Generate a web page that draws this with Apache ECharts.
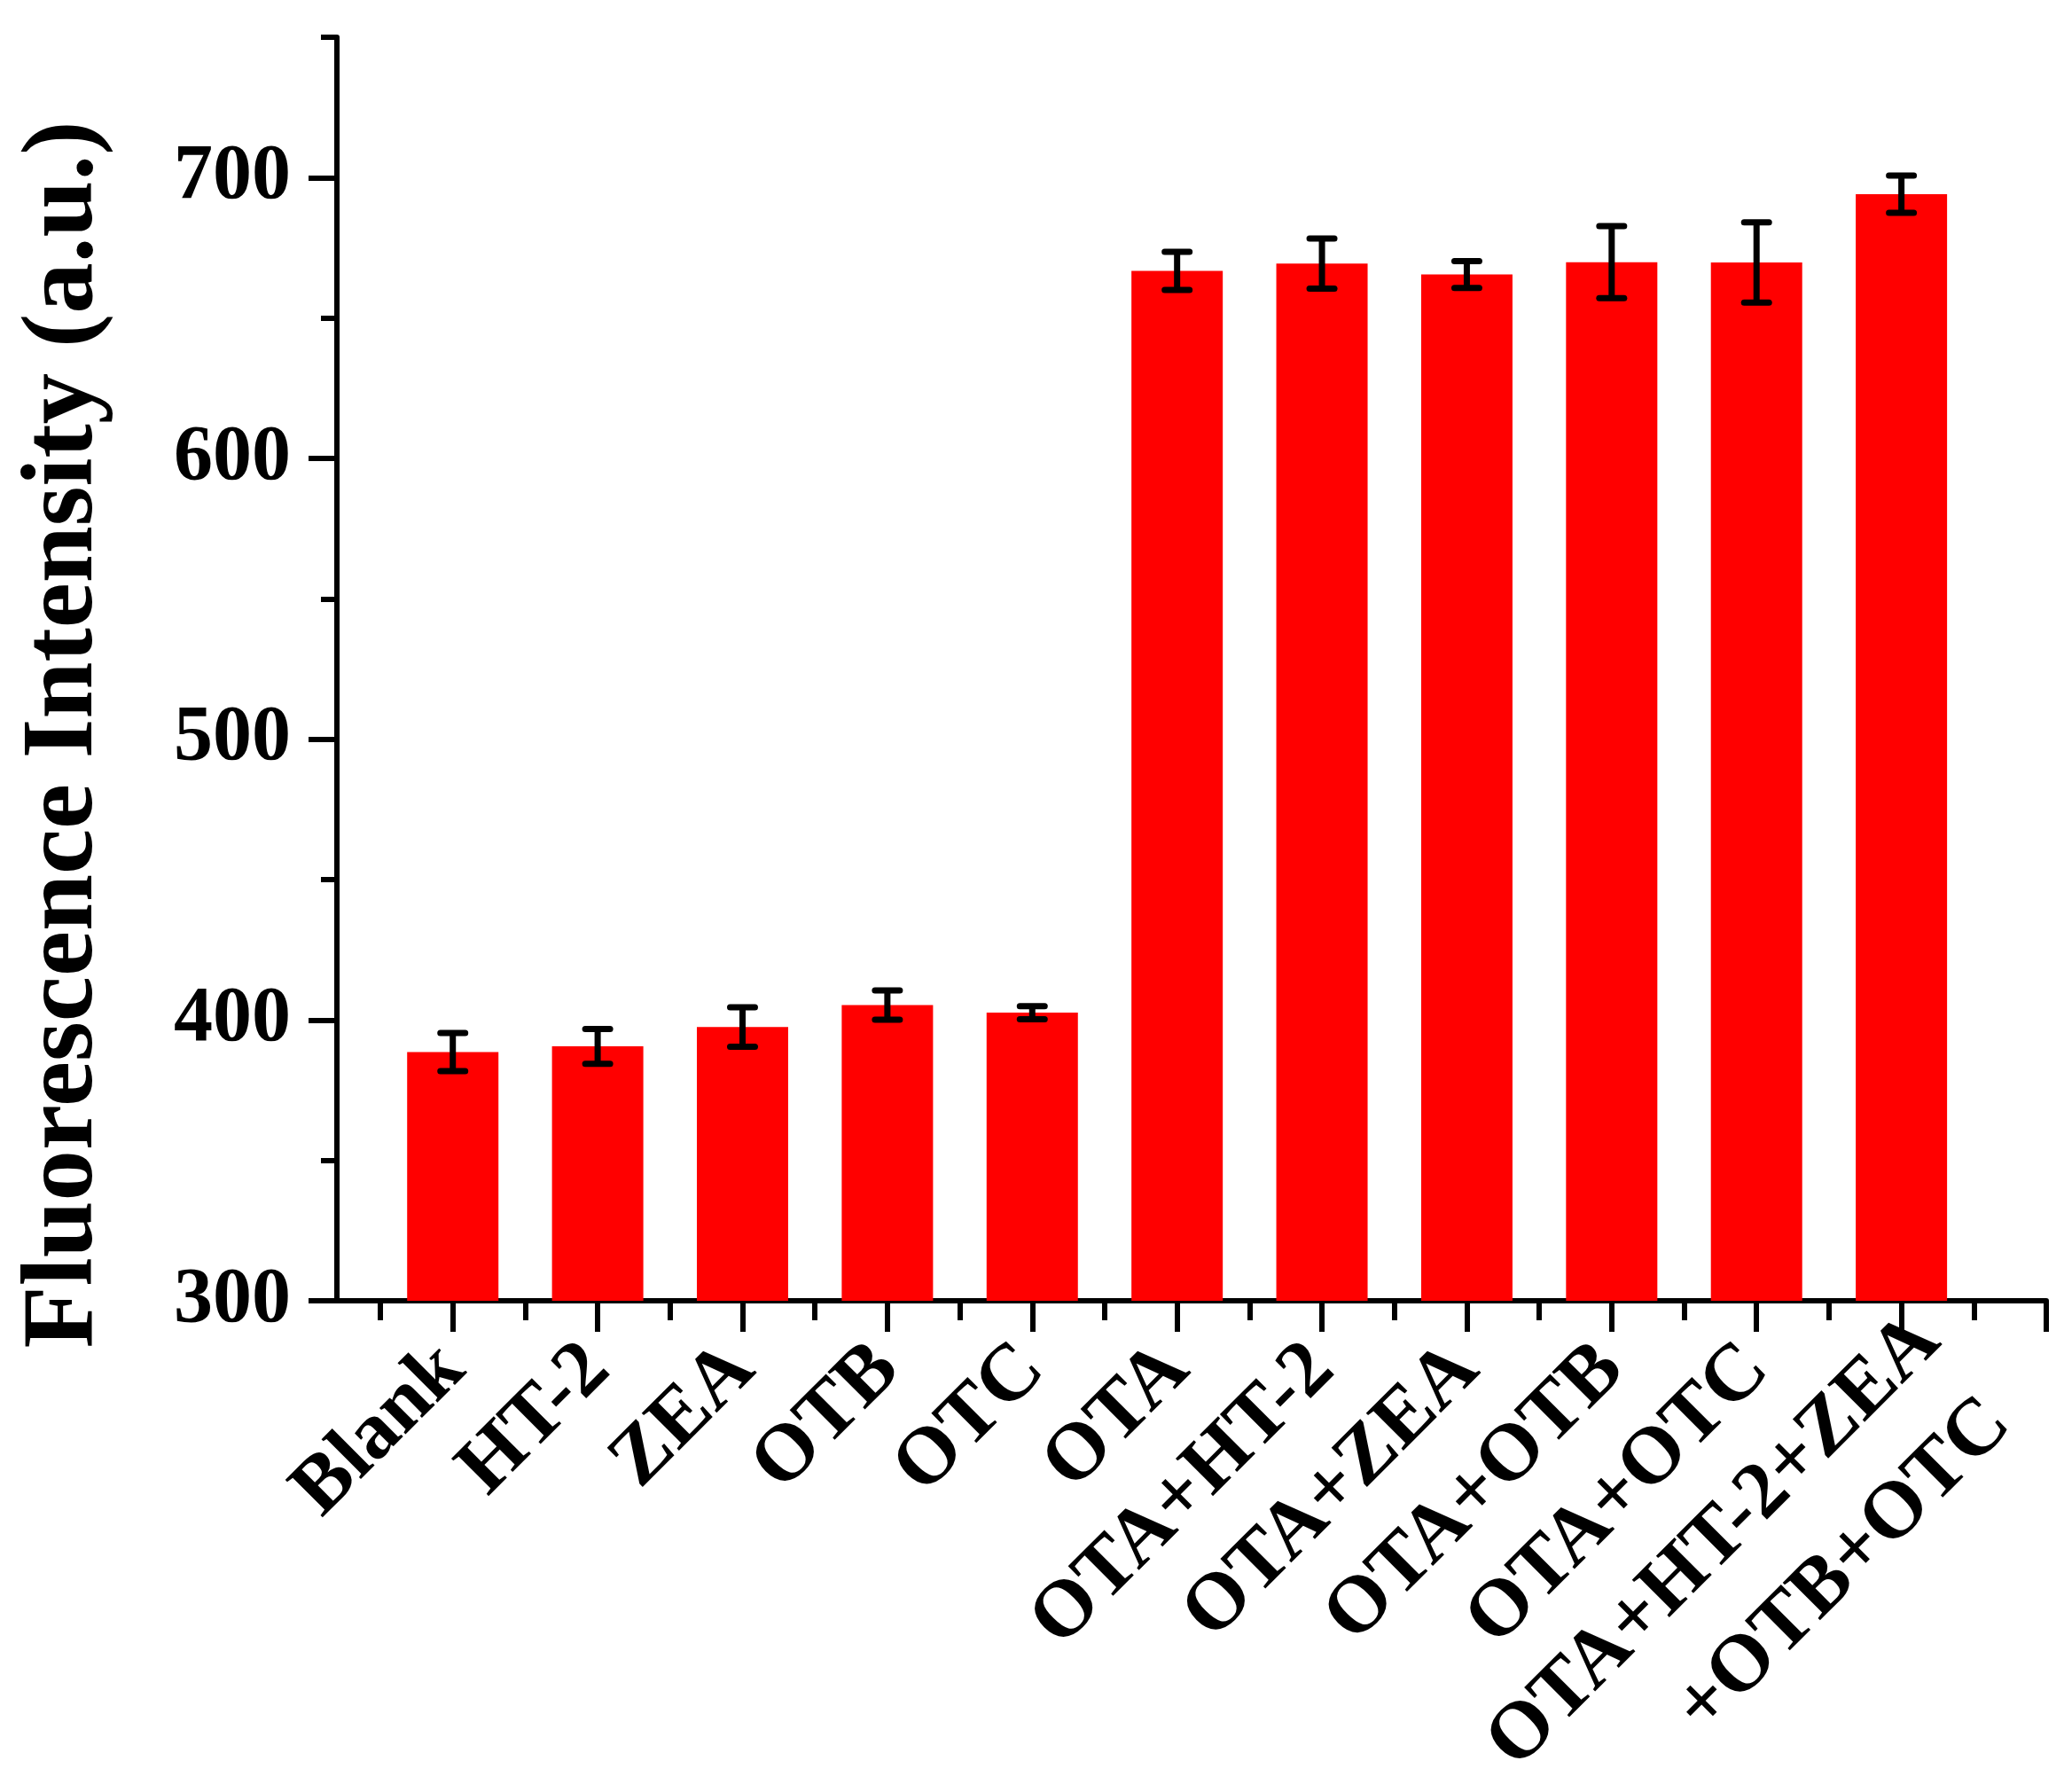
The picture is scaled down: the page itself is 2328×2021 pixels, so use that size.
<!DOCTYPE html>
<html>
<head>
<meta charset="utf-8">
<title>Fluorescence Intensity</title>
<script src="https://cdn.jsdelivr.net/npm/echarts@6/dist/echarts.min.js"></script>
<style>
  html, body { margin: 0; padding: 0; background: #fff; }
  #chart { width: 2328px; height: 2021px; }
</style>
</head>
<body>
<div id="chart"></div>
<script>
// categories along the x axis (bar i sits at x = i + 1)
const categories = [
  'Blank', 'HT-2', 'ZEA', 'OTB', 'OTC', 'OTA',
  'OTA+HT-2', 'OTA+ZEA', 'OTA+OTB', 'OTA+OTC', 'OTA+HT-2+ZEA\n+OTB+OTC'
]
// mean fluorescence intensity (a.u.) and error (+/-)
const means = [388.6, 390.6, 397.5, 405.3, 402.6, 666.8, 669.4, 665.5, 669.9, 669.8, 694.1]
const errors = [6.8, 6.2, 7.0, 5.2, 2.3, 6.8, 8.9, 4.8, 12.8, 14.3, 6.6]

// axis ticks
const yMajorTicks = [300, 400, 500, 600, 700]
const yMinorTicks = [350, 450, 550, 650, 750]
const xMajorTicks = categories.map((_, i) => i + 1).concat(categories.length + 1)
const xMinorTicks = categories.map((_, i) => i + 0.5).concat(categories.length + 0.5)
// single-line labels go on the main axis, multi-line ones on their own overlay axis
// (so ECharts' min/max overlap check does not drop a neighbour)
const xSingleLabelTicks = categories.map((c, i) => i + 1).filter(v => categories[v - 1].indexOf('\n') < 0)
const xMultiLabelTicks = categories.map((c, i) => i + 1).filter(v => categories[v - 1].indexOf('\n') >= 0)

const FONT = '"Liberation Serif", "Times New Roman", serif'

const barData = means.map((m, i) => [i + 1, m])
const errData = means.map((m, i) => [i + 1, m - errors[i], m + errors[i]])

// 误差棒：竖线 + 上下横帽
function renderErrorBar(params, api) {
  const x = api.value(0)
  const lo = api.coord([x, api.value(1)])
  const hi = api.coord([x, api.value(2)])
  const half = 14
  const style = { stroke: '#000', lineWidth: 7, lineCap: 'round' }
  return {
    type: 'group',
    children: [
      { type: 'line', shape: { x1: hi[0], y1: hi[1], x2: lo[0], y2: lo[1] }, style: { stroke: '#000', lineWidth: 7 } },
      { type: 'line', shape: { x1: hi[0] - half, y1: hi[1], x2: hi[0] + half, y2: hi[1] }, style },
      { type: 'line', shape: { x1: lo[0] - half, y1: lo[1], x2: lo[0] + half, y2: lo[1] }, style },
    ],
  }
}

function formatXLabel(value) {
  const label = categories[Math.round(value) - 1]
  if (!label) return ''
  if (label.indexOf('\n') < 0) return label
  // multi-line label: first line keeps the single-line position, next lines go below
  return '\n' + label.split('\n').map((l, i) => `{l${i}|${l}}`).join('\n')
}

const labelFont = { fontFamily: FONT, fontWeight: 'bold', fontSize: 91, color: '#000' }
const X_LABEL_MARGIN = 64

const chart = echarts.init(document.getElementById('chart'))

chart.setOption({
  animation: false,
  backgroundColor: '#fff',
  grid: { left: 380, right: 20, top: 42, bottom: 554, outerBoundsMode: 'none', containLabel: false },
  xAxis: [
    {
      type: 'value',
      min: 0.2,
      max: 12,
      position: 'bottom',
      axisLine: { show: true, onZero: false, lineStyle: { color: '#000', width: 6 } },
      axisTick: { show: true, customValues: xMajorTicks, length: 35, lineStyle: { color: '#000', width: 6 } },
      axisLabel: {
        show: true,
        customValues: xSingleLabelTicks,
        showMinLabel: true,
        showMaxLabel: true,
        rotate: 45,
        margin: X_LABEL_MARGIN,
        ...labelFont,
        lineHeight: 95,
        formatter: formatXLabel,
      },
      splitLine: { show: false },
    },
    {
      // minor ticks only
      type: 'value',
      min: 0.2,
      max: 12,
      position: 'bottom',
      axisLine: { show: false, onZero: false },
      axisTick: { show: true, customValues: xMinorTicks, length: 22, lineStyle: { color: '#000', width: 6 } },
      axisLabel: { show: false },
      splitLine: { show: false },
    },
    {
      // multi-line category labels
      type: 'value',
      min: 0.2,
      max: 12,
      position: 'bottom',
      axisLine: { show: false, onZero: false },
      axisTick: { show: false },
      axisLabel: {
        show: true,
        customValues: xMultiLabelTicks,
        showMinLabel: true,
        showMaxLabel: true,
        rotate: 45,
        margin: X_LABEL_MARGIN,
        ...labelFont,
        lineHeight: 121,
        formatter: formatXLabel,
        rich: {
          l0: { ...labelFont, lineHeight: 121, padding: [0, -44, 0, 0] },
          l1: { ...labelFont, lineHeight: 124, padding: [0, -34, 0, 0] },
        },
      },
      splitLine: { show: false },
    },
  ],
  yAxis: [
    {
      type: 'value',
      min: 300,
      max: 750,
      position: 'left',
      name: 'Fluorescence Intensity (a.u.)',
      nameLocation: 'middle',
      nameRotate: 90,
      nameGap: 249,
      nameTextStyle: {
        fontFamily: FONT, fontWeight: 'bold', fontSize: 115, color: '#000',
        padding: [0, 148, 0, 0],
      },
      axisLine: { show: true, onZero: false, lineStyle: { color: '#000', width: 6 } },
      axisTick: { show: true, customValues: yMajorTicks, length: 32, lineStyle: { color: '#000', width: 6 } },
      axisLabel: {
        show: true,
        customValues: yMajorTicks,
        showMinLabel: true,
        showMaxLabel: true,
        margin: 52,
        fontFamily: FONT, fontWeight: 'bold', fontSize: 88, color: '#000',
      },
      splitLine: { show: false },
    },
    {
      // minor ticks only
      type: 'value',
      min: 300,
      max: 750,
      position: 'left',
      axisLine: { show: false, onZero: false },
      axisTick: { show: true, customValues: yMinorTicks, length: 18, lineStyle: { color: '#000', width: 6 } },
      axisLabel: { show: false },
      splitLine: { show: false },
    },
  ],
  series: [
    {
      type: 'bar',
      xAxisIndex: 0,
      yAxisIndex: 0,
      data: barData,
      barWidth: 103,
      itemStyle: { color: '#ff0000' },
    },
    {
      type: 'custom',
      xAxisIndex: 0,
      yAxisIndex: 0,
      data: errData,
      encode: { x: 0, y: [1, 2] },
      renderItem: renderErrorBar,
      z: 5,
    },
  ],
})
</script>
</body>
</html>
